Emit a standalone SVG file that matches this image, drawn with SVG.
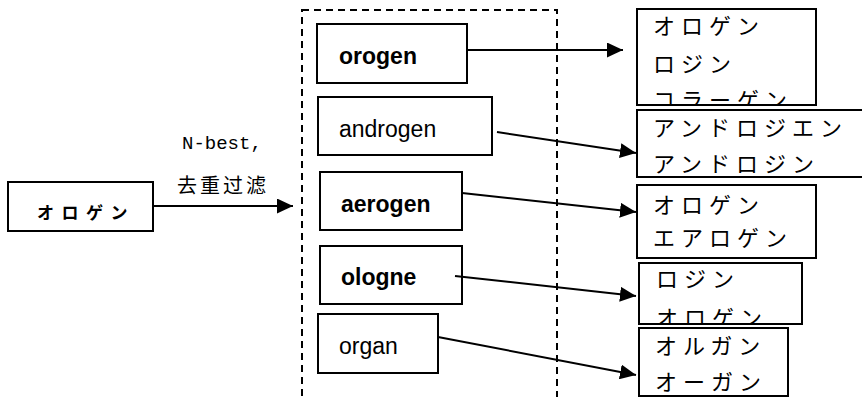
<svg xmlns="http://www.w3.org/2000/svg" width="862" height="397" viewBox="0 0 862 397">
  <style>
    .box { fill: #fff; stroke: #000; stroke-width: 2; }
    .group { fill: none; stroke: #000; stroke-width: 2; stroke-dasharray: 7 5; }
    .edge { fill: none; stroke: #000; stroke-width: 2; }
    .en { font-family: "Liberation Sans", Arial, sans-serif; font-size: 23px; fill: #000; }
    .en.b { font-weight: bold; }
    .ja { font-family: "Noto Sans CJK JP", sans-serif; font-size: 22px; letter-spacing: 6px; fill: #000; }
    .lbl { font-family: "Liberation Mono", monospace; font-size: 19px; fill: #000; }
    .zh { font-family: "Noto Sans CJK SC", sans-serif; font-size: 20px; letter-spacing: 3px; fill: #000; }
  </style>
  <defs>
    <marker id="head" markerUnits="userSpaceOnUse" markerWidth="17" markerHeight="15" refX="16" refY="7.5" orient="auto">
      <path d="M0,0 L16,7.5 L0,15 z" fill="#000"/>
    </marker>
    <clipPath id="clip-r1"><rect x="637" y="9" width="179" height="95"/></clipPath>
    <clipPath id="clip-r4"><rect x="639" y="263" width="163" height="60"/></clipPath>
  </defs>

  <rect width="862" height="397" fill="#fff"/>

  <!-- candidate set boundary -->
  <rect class="group" x="302" y="10" width="255" height="388"/>

  <!-- source word -->
  <g id="src">
    <rect class="box" x="8" y="182" width="145" height="49"/>
    <text x="37" y="219" font-family="Noto Sans CJK JP, sans-serif" font-size="17" font-weight="bold" letter-spacing="7.5">オロゲン</text>
  </g>

  <!-- step label -->
  <g id="step-label">
    <text class="lbl" x="182" y="149">N-best,</text>
    <text class="zh" x="177" y="193">去重过滤</text>
  </g>

  <!-- back-transliteration candidates -->
  <g id="c-orogen">
    <rect class="box" x="317" y="24" width="150" height="59"/>
    <text class="en b" x="339" y="64">orogen</text>
  </g>
  <g id="c-androgen">
    <rect class="box" x="318" y="97" width="174" height="58"/>
    <text class="en" x="339" y="137">androgen</text>
  </g>
  <g id="c-aerogen">
    <rect class="box" x="320" y="172" width="142" height="58"/>
    <text class="en b" x="341" y="212">aerogen</text>
  </g>
  <g id="c-ologne">
    <rect class="box" x="320" y="246" width="142" height="58"/>
    <text class="en b" x="341" y="285">ologne</text>
  </g>
  <g id="c-organ">
    <rect class="box" x="318" y="314" width="120" height="59"/>
    <text class="en" x="339" y="354">organ</text>
  </g>

  <!-- katakana results -->
  <g id="r-orogen">
    <rect class="box" x="637" y="9" width="179" height="96"/>
    <g clip-path="url(#clip-r1)">
      <text class="ja" x="653" y="34">オロゲン</text>
      <text class="ja" x="653" y="72">ロジン</text>
      <text class="ja" x="653" y="108">コラーゲン</text>
    </g>
  </g>
  <g id="r-androgen">
    <rect class="box" x="637" y="110" width="240" height="67"/>
    <text class="ja" x="653" y="136">アンドロジエン</text>
    <text class="ja" x="653" y="172">アンドロジン</text>
  </g>
  <g id="r-aerogen">
    <rect class="box" x="637" y="185" width="179" height="73"/>
    <text class="ja" x="653" y="213">オロゲン</text>
    <text class="ja" x="653" y="246">エアロゲン</text>
  </g>
  <g id="r-ologne">
    <rect class="box" x="639" y="263" width="163" height="61"/>
    <g clip-path="url(#clip-r4)">
      <text class="ja" x="656" y="287">ロジン</text>
      <text class="ja" x="656" y="326">オロゲン</text>
    </g>
  </g>
  <g id="r-organ">
    <rect class="box" x="639" y="328" width="149" height="68"/>
    <text class="ja" x="655" y="354">オルガン</text>
    <text class="ja" x="655" y="390">オーガン</text>
  </g>

  <!-- connectors -->
  <g id="edges">
    <line class="edge" x1="153" y1="206" x2="293" y2="206" marker-end="url(#head)"/>
    <line class="edge" x1="467" y1="50" x2="623" y2="50" marker-end="url(#head)"/>
    <line class="edge" x1="497" y1="132" x2="636" y2="153" marker-end="url(#head)"/>
    <line class="edge" x1="462" y1="193" x2="636" y2="212" marker-end="url(#head)"/>
    <line class="edge" x1="455" y1="276" x2="636" y2="296" marker-end="url(#head)"/>
    <line class="edge" x1="438" y1="337" x2="636" y2="375" marker-end="url(#head)"/>
  </g>
</svg>
